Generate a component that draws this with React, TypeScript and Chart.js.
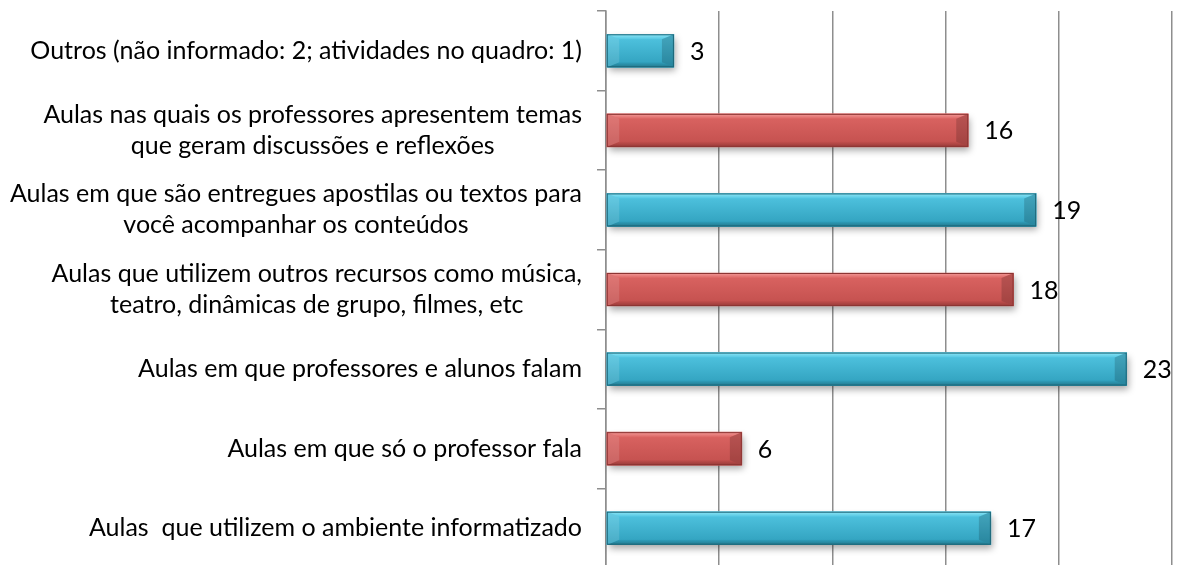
import React, { useEffect, useRef } from "react";
import { Chart, registerables } from "chart.js";

Chart.register(...registerables);

const categories: (string | string[])[] = [
  "Outros (não informado: 2; atividades no quadro: 1)",
  ["Aulas nas quais os professores apresentem temas", "que geram discussões e reflexões"],
  ["Aulas em que são entregues apostilas ou textos para", "você acompanhar os conteúdos"],
  ["Aulas que utilizem outros recursos como música,", "teatro, dinâmicas de grupo, filmes, etc"],
  "Aulas em que professores e alunos falam",
  "Aulas em que só o professor fala",
  "Aulas  que utilizem o ambiente informatizado",
];
const values: number[] = [3, 16, 19, 18, 23, 6, 17];
const barKinds: string[] = ["blue", "red", "blue", "red", "blue", "red", "blue"];
const xTicks: number[] = [0, 5, 10, 15, 20, 25];

const FONT = 'Lato, "Open Sans", sans-serif';
const FONT_SIZE = 25;

const palette: Record<string, any> = {
  blue: {
    base: "#3fb4d0",
    top: "#8fe6f6",
    body1: "#52c6e2",
    body2: "#2f9fbc",
    bottom: "#23788c",
    border: "#1d6678",
  },
  red: {
    base: "#cf5856",
    top: "#f39a98",
    body1: "#dc6563",
    body2: "#c24f4d",
    bottom: "#973b39",
    border: "#8c3533",
  },
};

const bevelPlugin = {
  id: "bevelBars",
  beforeDatasetsDraw(chart: any) {
    const ctx = chart.ctx;
    const meta = chart.getDatasetMeta(0);
    ctx.save();
    meta.data.forEach((el: any) => {
      const { x, y, base, height } = el.getProps(["x", "y", "base", "height"], true);
      const x0 = Math.min(base, x);
      const x1 = Math.max(base, x);
      const y0 = y - height / 2;
      ctx.shadowColor = "rgba(0,0,0,0.35)";
      ctx.shadowBlur = 7;
      ctx.shadowOffsetX = 2;
      ctx.shadowOffsetY = 4;
      ctx.fillStyle = "#ffffff";
      ctx.fillRect(x0, y0, x1 - x0, height);
    });
    ctx.restore();
  },
  afterDatasetsDraw(chart: any) {
    const ctx = chart.ctx;
    const meta = chart.getDatasetMeta(0);
    meta.data.forEach((el: any, i: number) => {
      const p = palette[barKinds[i]];
      const { x, y, base, height } = el.getProps(["x", "y", "base", "height"], true);
      const x0 = Math.min(base, x) + 0.5;
      const x1 = Math.max(base, x);
      const y0 = y - height / 2;
      const y1 = y + height / 2;
      const d = Math.min(12, (x1 - x0) / 3);
      const tb = 5;
      const bb = 5;
      ctx.save();
      const g = ctx.createLinearGradient(0, y0, 0, y1);
      g.addColorStop(0, p.body1);
      g.addColorStop(1, p.body2);
      ctx.fillStyle = g;
      ctx.fillRect(x0, y0, x1 - x0, y1 - y0);
      const gt = ctx.createLinearGradient(0, y0, 0, y0 + tb);
      gt.addColorStop(0, p.top);
      gt.addColorStop(1, p.body1);
      ctx.fillStyle = gt;
      ctx.beginPath();
      ctx.moveTo(x0, y0);
      ctx.lineTo(x1, y0);
      ctx.lineTo(x1 - d, y0 + tb);
      ctx.lineTo(x0 + d, y0 + tb);
      ctx.closePath();
      ctx.fill();
      const gb = ctx.createLinearGradient(0, y1 - bb, 0, y1);
      gb.addColorStop(0, p.body2);
      gb.addColorStop(1, p.bottom);
      ctx.fillStyle = gb;
      ctx.beginPath();
      ctx.moveTo(x0, y1);
      ctx.lineTo(x1, y1);
      ctx.lineTo(x1 - d, y1 - bb);
      ctx.lineTo(x0 + d, y1 - bb);
      ctx.closePath();
      ctx.fill();
      ctx.fillStyle = "rgba(255,255,255,0.12)";
      ctx.beginPath();
      ctx.moveTo(x0, y0);
      ctx.lineTo(x0 + d, y0 + tb);
      ctx.lineTo(x0 + d, y1 - bb);
      ctx.lineTo(x0, y1);
      ctx.closePath();
      ctx.fill();
      ctx.fillStyle = "rgba(0,0,0,0.16)";
      ctx.beginPath();
      ctx.moveTo(x1, y0);
      ctx.lineTo(x1 - d, y0 + tb);
      ctx.lineTo(x1 - d, y1 - bb);
      ctx.lineTo(x1, y1);
      ctx.closePath();
      ctx.fill();
      ctx.strokeStyle = p.border;
      ctx.lineWidth = 1;
      ctx.strokeRect(x0, y0 + 0.5, x1 - x0 - 0.5, y1 - y0 - 1);
      ctx.restore();

      ctx.save();
      ctx.fillStyle = "#000000";
      ctx.font = `${FONT_SIZE}px ${FONT}`;
      ctx.textAlign = "left";
      ctx.textBaseline = "middle";
      ctx.fillText(String(values[i]), x1 + 16, y + 1);
      ctx.restore();
    });
  },
  afterDraw(chart: any) {
    const ctx = chart.ctx;
    const yScale = chart.scales.y;
    const right = yScale.right - 8 - 16;
    const lineH = 31;
    ctx.save();
    ctx.fillStyle = "#000000";
    ctx.font = `${FONT_SIZE}px ${FONT}`;
    ctx.textBaseline = "middle";
    ctx.textAlign = "center";
    categories.forEach((lab, i) => {
      const lines = Array.isArray(lab) ? lab : [lab];
      const maxW = Math.max(...lines.map((l) => ctx.measureText(l).width));
      const cx = right - maxW / 2;
      const cy = yScale.getPixelForTick(i);
      const startY = cy - ((lines.length - 1) * lineH) / 2;
      lines.forEach((l, k) => ctx.fillText(l, cx, startY + k * lineH));
    });
    ctx.restore();
  },
};

export default function App() {
  const ref = useRef<HTMLCanvasElement>(null);
  useEffect(() => {
    if (!ref.current) return;
    const chart = new Chart(ref.current, {
      type: "bar",
      data: {
        labels: categories,
        datasets: [
          {
            data: values,
            backgroundColor: barKinds.map((k) => palette[k].base),
            borderWidth: 0,
            barThickness: 33,
          },
        ],
      },
      options: {
        indexAxis: "y",
        animation: false,
        responsive: true,
        maintainAspectRatio: false,
        layout: { padding: { top: 11, right: 7, bottom: 0, left: 0 } },
        plugins: {
          legend: { display: false },
          tooltip: { enabled: false },
        },
        scales: {
          x: {
            min: 0,
            max: 25,
            afterBuildTicks: (scale: any) => {
              scale.ticks = xTicks.map((v) => ({ value: v }));
            },
            ticks: { display: false },
            grid: {
              color: "#8e8e8e",
              lineWidth: 1.5,
              drawTicks: false,
            },
            border: { display: false },
            afterFit: (scale: any) => {
              scale.height = 0;
            },
          },
          y: {
            ticks: { display: false },
            grid: {
              offset: true,
              drawOnChartArea: false,
              drawTicks: true,
              tickLength: 9,
              color: "#8e8e8e",
              lineWidth: 1.5,
            },
            border: { display: true, color: "#8e8e8e", width: 1.5 },
            afterFit: (scale: any) => {
              scale.width = 606;
            },
          },
        },
      },
      plugins: [bevelPlugin],
    });
    return () => chart.destroy();
  }, []);
  return (
    <div style={{ position: "fixed", left: 0, top: 0, width: 1179, height: 565, overflow: "hidden", background: "#fff" }}>
      <div style={{ position: "relative", width: 1179, height: 568 }}>
        <canvas ref={ref} />
      </div>
    </div>
  );
}
